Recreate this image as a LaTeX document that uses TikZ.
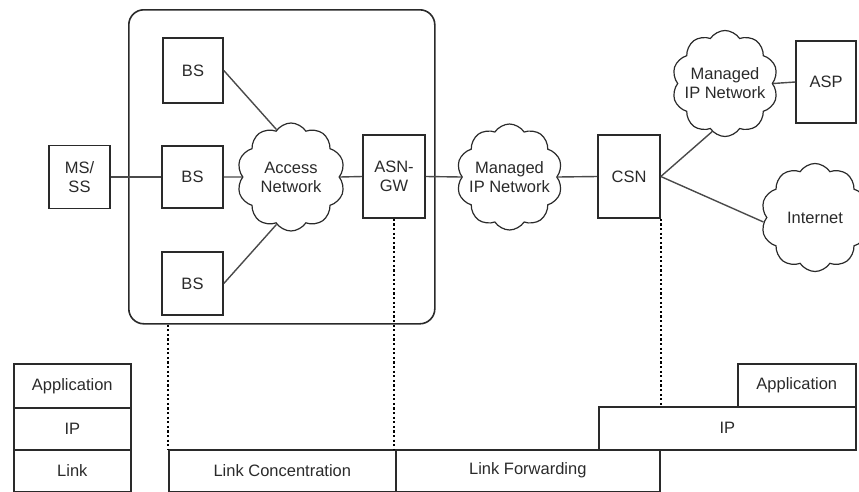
\documentclass[tikz,border=0pt]{standalone}
\usepackage{fontspec}
\setmainfont{Liberation Sans}
\usetikzlibrary{shapes.symbols}
\definecolor{ink}{HTML}{2A2A2A}
\definecolor{wire}{HTML}{4A4A4A}
\begin{document}
\begin{tikzpicture}[x=1pt,y=-1pt,
  every node/.style={text=ink,font=\fontsize{16.5}{19}\selectfont,align=center,inner sep=0pt},
  unit/.style={draw=ink,line width=1.6pt,rectangle},
  netcloud/.style={draw=ink,line width=1.2pt,cloud,cloud puffs=10,cloud puff arc=115,aspect=1,
                   minimum width=#1,minimum height=#1},
  netcloud/.default=106,
  wireline/.style={draw=wire,line width=1.4pt},
  tie/.style={draw=black,line width=2.6pt,dash pattern=on 2.2pt off 2.4pt},
  layer/.style={draw=ink,line width=1.6pt,rectangle,anchor=north west}]
\useasboundingbox (0,0) rectangle (859,491);
\clip (0,0) rectangle (859,491);

% access service network enclosure
\node[draw=ink,line width=1.6pt,rounded corners=15pt,minimum width=306,minimum height=314,anchor=north west] (asn) at (128,9) {};

% base stations, subscriber station, gateways
\node[unit,minimum width=60,minimum height=65] (bs1) at (193,70.5) {BS};
\node[unit,minimum width=61,minimum height=62] (bs2) at (192.5,177) {BS};
\node[unit,minimum width=61,minimum height=63] (bs3) at (192.5,283.5) {BS};
\node[unit,minimum width=61,minimum height=63] (ms) at (79.5,177) {MS/\\SS};
\node[unit,minimum width=62,minimum height=83] (gw) at (394,176.5) {ASN-\\GW};
\node[unit,minimum width=62,minimum height=83] (csn) at (629,176.5) {CSN};
\node[unit,minimum width=60,minimum height=82] (asp) at (826,82) {ASP};

% clouds, drawn empty so their size is fixed, with their labels set on top
\node[netcloud=108] (an) at (291,177) {};
\node[netcloud=106] (mip1) at (509.5,177) {};
\node[netcloud=106] (mip2) at (725,83.5) {};
\node[netcloud=108] (inet) at (815,217.5) {};
\node (anlabel) at (an) {Access\\Network};
\node (mip1label) at (mip1) {Managed\\IP Network};
\node (mip2label) at (mip2) {Managed\\IP Network};
\node (inetlabel) at (inet) {Internet};

% links
\draw[wireline] (ms.east) -- (bs2.west);
\draw[wireline] (bs2.east) -- (an.west);
\draw[wireline] (bs1.east) -- (an.107);
\draw[wireline] (bs3.east) -- (an.253);
\draw[wireline] (an.east) -- (gw.west);
\draw[wireline] (gw.east) -- (mip1.west);
\draw[wireline] (mip1.east) -- (csn.west);
\draw[wireline] (csn.east) -- (mip2.255);
\draw[wireline] (csn.east) -- (inet.185);
\draw[wireline] (mip2.east) -- (asp.west);

% protocol stacks
\node[layer,minimum width=117,minimum height=44] (app1) at (13,363) {Application};
\node[layer,minimum width=117,minimum height=42] (ip1) at (13,407) {IP};
\node[layer,minimum width=117,minimum height=41.5] (lk1) at (13,449) {Link};
\node[layer,minimum width=227,minimum height=41.5] (lc) at (168,449) {Link Concentration};
\node[layer,minimum width=264,minimum height=41.5] (lf) at (395,449) {Link Forwarding};
\node[layer,minimum width=257,minimum height=43] (ip2) at (598,406) {IP};
\node[layer,minimum width=118,minimum height=43] (app2) at (737,363) {Application};

% dotted ties from the network elements to their layers
\draw[tie] (lc.north west |- asn.south) -- (lc.north west);
\draw[tie] (gw.south) -- (gw.south |- lc.north);
\draw[tie] (csn.south east) -- (csn.south east |- ip2.north);
\end{tikzpicture}
\end{document}
